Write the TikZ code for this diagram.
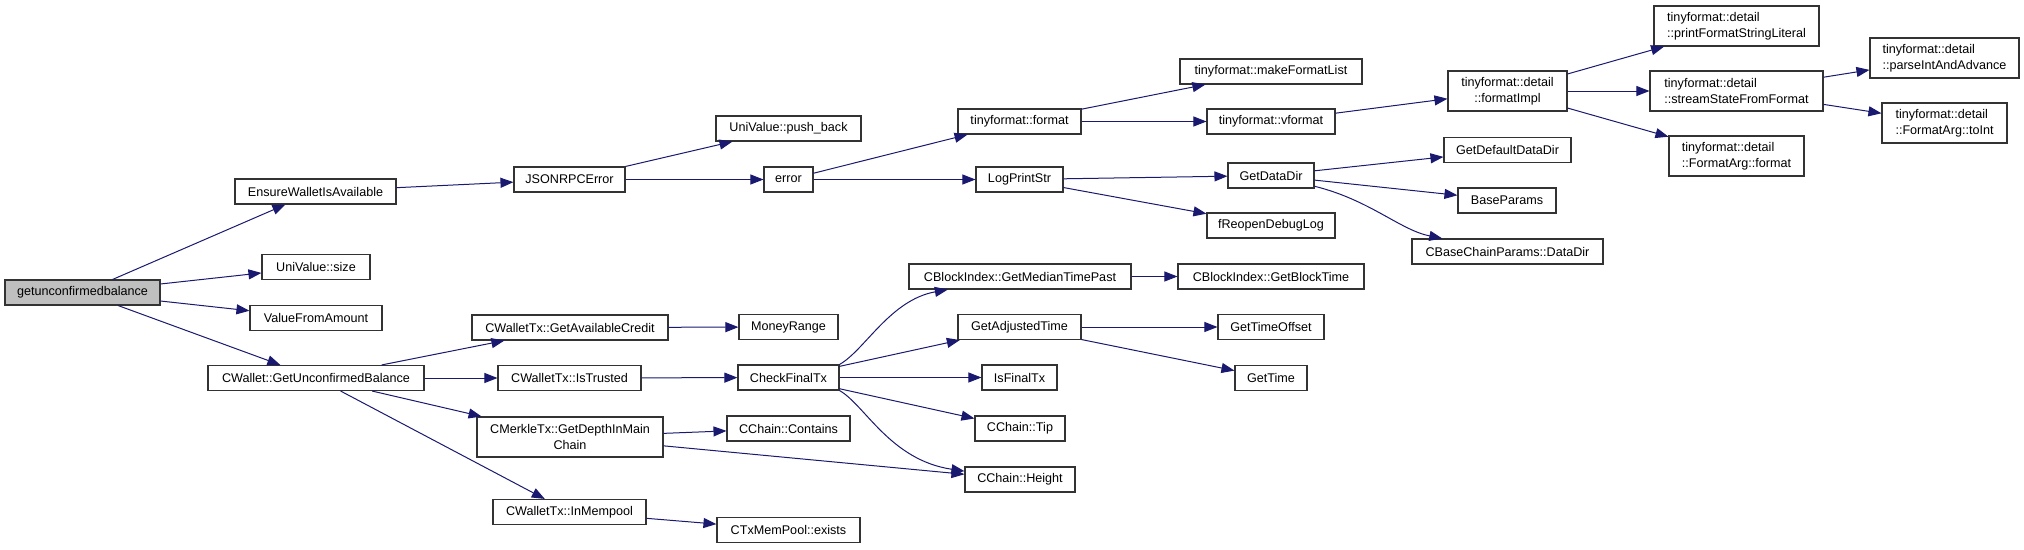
\documentclass[tikz,border=0pt]{standalone}
\usepackage{fontspec}
\setmainfont{Liberation Sans}
\usepackage{tikz}
\usetikzlibrary{arrows.meta}
\definecolor{callblue}{HTML}{191970}
\definecolor{rootgray}{HTML}{BFBFBF}
\tikzset{
  funcbox/.style={draw=black!80,fill=white,line width=1.1pt,inner sep=0pt,
    minimum height=25pt,align=center,font=\fontsize{12.6}{15.5}\selectfont},
  rootbox/.style={funcbox,fill=rootgray},
  twoline/.style={minimum height=40pt},
  callarrow/.style={-{Triangle[length=13pt,width=10pt]},draw=callblue,line width=1pt}
}
\begin{document}
\begin{tikzpicture}[x=1pt,y=-1pt]
  \useasboundingbox (0,0) rectangle (2024,549);
  \node[rootbox,minimum width=155] (gub) at (82.5,292.5) {getunconfirmedbalance};
  \node[funcbox,minimum width=161] (ewia) at (315.5,191.5) {EnsureWalletIsAvailable};
  \node[funcbox,minimum width=108] (uvsize) at (316,267) {UniValue::size};
  \node[funcbox,minimum width=132] (vfa) at (316,318) {ValueFromAmount};
  \node[funcbox,minimum width=216] (cwgub) at (316,378) {CWallet::GetUnconfirmedBalance};
  \node[funcbox,minimum width=111] (jsonerr) at (569.5,179.5) {JSONRPCError};
  \node[funcbox,minimum width=196] (gac) at (570,327.5) {CWalletTx::GetAvailableCredit};
  \node[funcbox,minimum width=143] (istrusted) at (569.5,378) {CWalletTx::IsTrusted};
  \node[funcbox,twoline,minimum width=186] (depth) at (570,437) {CMerkleTx::GetDepthInMain\\Chain};
  \node[funcbox,minimum width=153] (inmempool) at (569.5,512) {CWalletTx::InMempool};
  \node[funcbox,minimum width=145] (pushback) at (788.5,128.5) {UniValue::push\_back};
  \node[funcbox,minimum width=49] (err) at (788.5,179.5) {error};
  \node[funcbox,minimum width=99] (moneyrange) at (788.5,327) {MoneyRange};
  \node[funcbox,minimum width=101] (checkfinal) at (788.5,377.5) {CheckFinalTx};
  \node[funcbox,minimum width=123] (contains) at (788.5,428.5) {CChain::Contains};
  \node[funcbox,minimum width=143] (exists) at (788.5,530) {CTxMemPool::exists};
  \node[funcbox,minimum width=123] (tfformat) at (1019.5,121.5) {tinyformat::format};
  \node[funcbox,minimum width=87] (logprint) at (1019.5,179.5) {LogPrintStr};
  \node[funcbox,minimum width=222] (median) at (1020,276.5) {CBlockIndex::GetMedianTimePast};
  \node[funcbox,minimum width=123] (adjtime) at (1019.5,327) {GetAdjustedTime};
  \node[funcbox,minimum width=75] (isfinal) at (1019.5,377.5) {IsFinalTx};
  \node[funcbox,minimum width=90] (tip) at (1020,428.5) {CChain::Tip};
  \node[funcbox,minimum width=110] (height) at (1020,479.5) {CChain::Height};
  \node[funcbox,minimum width=182] (mkfmt) at (1271,71.5) {tinyformat::makeFormatList};
  \node[funcbox,minimum width=128] (vformat) at (1271,121.5) {tinyformat::vformat};
  \node[funcbox,minimum width=86] (datadir) at (1271,175.5) {GetDataDir};
  \node[funcbox,minimum width=128] (reopen) at (1271,225.5) {fReopenDebugLog};
  \node[funcbox,minimum width=186] (blocktime) at (1271,276.5) {CBlockIndex::GetBlockTime};
  \node[funcbox,minimum width=106] (timeoffset) at (1271,327) {GetTimeOffset};
  \node[funcbox,minimum width=72] (gettime) at (1271,378) {GetTime};
  \node[funcbox,twoline,minimum width=119] (fmtimpl) at (1507.5,91) {tinyformat::detail\\::formatImpl};
  \node[funcbox,minimum width=127] (defdir) at (1507.5,150) {GetDefaultDataDir};
  \node[funcbox,minimum width=98] (baseparams) at (1507,200.5) {BaseParams};
  \node[funcbox,minimum width=191] (cbcpdir) at (1507.5,251.5) {CBaseChainParams::DataDir};
  \node[funcbox,twoline,align=left,minimum width=165] (printlit) at (1736.5,26) {tinyformat::detail\\::printFormatStringLiteral};
  \node[funcbox,twoline,align=left,minimum width=173] (streamstate) at (1736.5,91) {tinyformat::detail\\::streamStateFromFormat};
  \node[funcbox,twoline,align=left,minimum width=135] (argformat) at (1736.5,156) {tinyformat::detail\\::FormatArg::format};
  \node[funcbox,twoline,align=left,minimum width=149] (parseint) at (1944.5,58) {tinyformat::detail\\::parseIntAndAdvance};
  \node[funcbox,twoline,align=left,minimum width=125] (toint) at (1944.5,123) {tinyformat::detail\\::FormatArg::toInt};

  \draw[callarrow] (gub) -- (ewia);
  \draw[callarrow] (gub) -- (uvsize);
  \draw[callarrow] (gub) -- (vfa);
  \draw[callarrow] (gub) -- (cwgub);
  \draw[callarrow] (ewia) -- (jsonerr);
  \draw[callarrow] (jsonerr) -- (pushback);
  \draw[callarrow] (jsonerr) -- (err);
  \draw[callarrow] (err) -- (tfformat);
  \draw[callarrow] (err) -- (logprint);
  \draw[callarrow] (tfformat) -- (mkfmt);
  \draw[callarrow] (tfformat) -- (vformat);
  \draw[callarrow] (vformat) -- (fmtimpl);
  \draw[callarrow] (fmtimpl) -- (printlit);
  \draw[callarrow] (fmtimpl) -- (streamstate);
  \draw[callarrow] (fmtimpl) -- (argformat);
  \draw[callarrow] (streamstate) -- (parseint);
  \draw[callarrow] (streamstate) -- (toint);
  \draw[callarrow] (logprint) -- (datadir);
  \draw[callarrow] (logprint) -- (reopen);
  \draw[callarrow] (datadir) -- (defdir);
  \draw[callarrow] (datadir) -- (baseparams);
  \draw[callarrow] (datadir) .. controls (1370,200) and (1400,230) .. (cbcpdir);
  \draw[callarrow] (cwgub) -- (gac);
  \draw[callarrow] (cwgub) -- (istrusted);
  \draw[callarrow] (cwgub) -- (depth);
  \draw[callarrow] (cwgub) -- (inmempool);
  \draw[callarrow] (gac) -- (moneyrange);
  \draw[callarrow] (istrusted) -- (checkfinal);
  \draw[callarrow] (checkfinal.north east) .. controls (865,350) and (890,300) .. (median);
  \draw[callarrow] (checkfinal) -- (adjtime);
  \draw[callarrow] (checkfinal) -- (isfinal);
  \draw[callarrow] (checkfinal) -- (tip);
  \draw[callarrow] (checkfinal.south east) .. controls (865,405) and (890,460) .. (height);
  \draw[callarrow] (median) -- (blocktime);
  \draw[callarrow] (adjtime) -- (timeoffset);
  \draw[callarrow] (adjtime) -- (gettime);
  \draw[callarrow] (depth) -- (contains);
  \draw[callarrow] (depth) -- (height);
  \draw[callarrow] (inmempool) -- (exists);
\end{tikzpicture}
\end{document}
